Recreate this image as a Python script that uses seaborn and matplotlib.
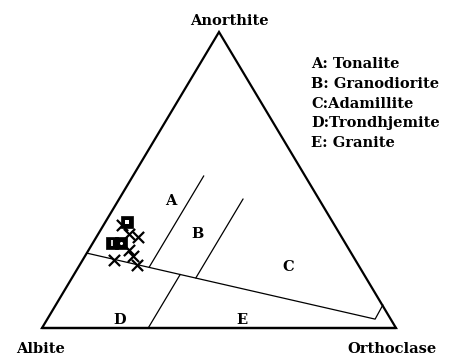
import matplotlib
matplotlib.use("Agg")
import matplotlib.pyplot as plt
import numpy as np
import pandas as pd
import seaborn as sns

# samples (percent): An = anorthite, Or = orthoclase, Ab = rest
cross_an = [34.8, 31.8, 30.7, 26.4, 24.3, 23.0, 21.3]
cross_or = [5.2, 8.7, 11.7, 11.4, 13.5, 8.8, 16.1]
square_an = [35.8, 28.7, 28.7]
square_or = [6.1, 5.4, 8.0]

# field boundaries (An, Or pairs, percent)
boundaries = {
    "main": ([25.3, 3.0, 7.8], [0.0, 92.6, 92.4]),
    "AB": ([20.5, 51.4], [20.0, 20.0]),
    "BC": ([16.9, 43.6], [35.0, 35.0]),
    "DE": ([0.0, 18.1], [30.0, 30.0]),
}
field_labels = ["A", "B", "C", "D", "E"]
field_an = [42.9, 31.8, 20.6, 2.7, 2.7]
field_or = [14.9, 27.9, 59.2, 20.7, 55.1]

legend_lines = ["A: Tonalite", "B: Granodiorite", "C:Adamillite",
                "D:Trondhjemite", "E: Granite"]

FONT = ['DejaVu Serif']
FS = 10.5


def to_xy(an, orth):
    an = np.asarray(an, dtype=float) / 100
    orth = np.asarray(orth, dtype=float) / 100
    return orth + an / 2, an


def px(x_pix, y_pix):
    # helper for placing annotation text by pixel position
    return (x_pix - 42) / 354, (328 - y_pix) / 296


sns.set_style("white")
plt.rcParams['font.family'] = FONT
plt.rcParams['font.weight'] = 'bold'
plt.rcParams['text.color'] = 'black'

fig = plt.figure(figsize=(4.5, 3.6), dpi=100)
ax = fig.add_axes([0, 0, 1, 1])
ax.set_xlim(-42 / 354, 408 / 354)
ax.set_ylim(-32 / 296, 328 / 296)
ax.axis("off")

# outer triangle
tri = pd.DataFrame({"x": [0, 1, 0.5, 0, 1], "y": [0, 0, 1, 0, 0]})
ax.plot(tri["x"], tri["y"], color="black", lw=1.6, solid_joinstyle="miter")

# field boundaries
for name, (an, orth) in boundaries.items():
    bx, by = to_xy(an, orth)
    df = pd.DataFrame({"x": bx, "y": by})
    sns.lineplot(data=df, x="x", y="y", sort=False, color="black",
                 linewidth=0.9, ax=ax, estimator=None)

# field letters
for lab, an, orth in zip(field_labels, field_an, field_or):
    fx, fy = to_xy(an, orth)
    ax.text(fx, fy, lab, fontsize=FS, fontweight="bold", color="black",
            ha="center", va="center")

# samples
cx, cy = to_xy(cross_an, cross_or)
sns.scatterplot(x=cx, y=cy, marker="x", s=65, color="black",
                linewidth=1.6, ax=ax, zorder=4)
sx, sy = to_xy(square_an, square_or)
sns.scatterplot(x=sx, y=sy, marker="s", s=68, color="black",
                edgecolor="black", linewidth=0.5, ax=ax, zorder=5)
ax.scatter(sx[:1], sy[:1], marker="s", s=10, facecolor="white",
           edgecolor="none", zorder=6)
ax.scatter(sx[1:2], sy[1:2], marker="|", s=18, color="white",
           linewidths=1.2, zorder=6)
ax.scatter(sx[2:], sy[2:], marker=".", s=6, color="white", zorder=6)

# vertex names
ax.text(*px(229, 25), "Anorthite", fontsize=FS, fontweight="bold",
        ha="center", va="baseline", color="black")
ax.text(*px(41, 353), "Albite", fontsize=FS, fontweight="bold",
        ha="center", va="baseline", color="black")
ax.text(*px(392, 353), "Orthoclase", fontsize=FS, fontweight="bold",
        ha="center", va="baseline", color="black")

# rock type key
for i, line in enumerate(legend_lines):
    ax.text(*px(311, 64 + 19.75 * i), line, fontsize=FS, color="black",
            fontweight="bold", ha="left", va="center")

fig.savefig("out.png", dpi=100, facecolor="white")
